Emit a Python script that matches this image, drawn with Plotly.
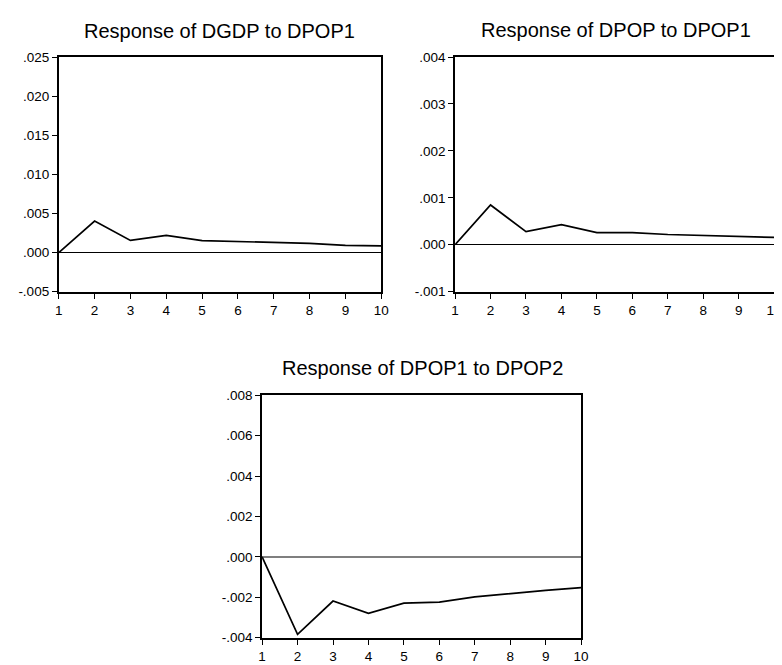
import plotly.graph_objects as go

periods = [1, 2, 3, 4, 5, 6, 7, 8, 9, 10]

dgdp_to_dpop1 = [0.0, 0.00403, 0.00155, 0.00218, 0.00151, 0.00143, 0.00126, 0.00118, 0.00092, 0.00084]
dpop_to_dpop1 = [0.0, 0.000846, 0.00028, 0.000427, 0.000259, 0.000259, 0.000217, 0.000196, 0.000168, 0.000154]
dpop1_to_dpop2 = [0.0, -0.00384, -0.00219, -0.0028, -0.00229, -0.00224, -0.00198, -0.00181, -0.00166, -0.00152]

titles = ["Response of DGDP to DPOP1", "Response of DPOP to DPOP1", "Response of DPOP1 to DPOP2"]

y1_vals = [-0.005, 0.0, 0.005, 0.010, 0.015, 0.020, 0.025]
y1_text = ["-.005", ".000", ".005", ".010", ".015", ".020", ".025"]
y2_vals = [-0.001, 0.0, 0.001, 0.002, 0.003, 0.004]
y2_text = ["-.001", ".000", ".001", ".002", ".003", ".004"]
y3_vals = [-0.004, -0.002, 0.0, 0.002, 0.004, 0.006, 0.008]
y3_text = ["-.004", "-.002", ".000", ".002", ".004", ".006", ".008"]

FONT = "Liberation Sans, Arial, sans-serif"
W, H = 782, 665

fig = go.Figure()
series = [dgdp_to_dpop1, dpop_to_dpop1, dpop1_to_dpop2]
for i, s in enumerate(series):
    suffix = "" if i == 0 else str(i + 1)
    fig.add_trace(go.Scatter(x=periods, y=s, mode="lines",
                             line=dict(color="black", width=1.7),
                             xaxis="x" + suffix, yaxis="y" + suffix,
                             hoverinfo="skip"))

# pixel boxes (left, right, top, bottom)
boxes = [(47.5, 375, 43, 283), (450, 774, 43, 283), (254, 578, 389, 637)]
yranges = [(-0.005, 0.025), (-0.001, 0.004), (-0.004, 0.008)]
yticks = [(y1_vals, y1_text), (y2_vals, y2_text), (y3_vals, y3_text)]
zero_colors = ["black", "black", "#7f7f7f"]
zero_widths = [1, 1, 1.6]

layout = dict(width=W, height=H, margin=dict(l=0, r=0, t=0, b=0),
              paper_bgcolor="white", plot_bgcolor="white", showlegend=False,
              font=dict(family=FONT, color="black"))

for i, (l, r, t, b) in enumerate(boxes):
    suffix = "" if i == 0 else str(i + 1)
    common = dict(showline=True, mirror=True, linecolor="black", linewidth=1.8,
                  ticks="outside", ticklen=5, tickwidth=1, tickcolor="black",
                  showgrid=False, tickfont=dict(family=FONT, size=13.5, color="black"))
    layout["xaxis" + suffix] = dict(domain=[l / W, r / W], range=[1, 10],
                                    tickvals=periods, ticktext=[str(p) for p in periods],
                                    zeroline=False, anchor="y" + suffix, **common)
    layout["yaxis" + suffix] = dict(domain=[1 - b / H, 1 - t / H], range=list(yranges[i]),
                                    tickvals=yticks[i][0], ticktext=yticks[i][1],
                                    zeroline=True, zerolinecolor=zero_colors[i],
                                    zerolinewidth=zero_widths[i],
                                    anchor="x" + suffix, **common)

fig.update_layout(**layout)

title_pos = [(211, 16), (613, 15), (417, 361)]
for (cx, cy), txt in zip(title_pos, titles):
    fig.add_annotation(text=txt, x=cx / W, y=1 - cy / H, xref="paper", yref="paper",
                       showarrow=False, xanchor="center", yanchor="middle",
                       font=dict(family=FONT, size=20, color="black"))

fig.write_html("out.html")
